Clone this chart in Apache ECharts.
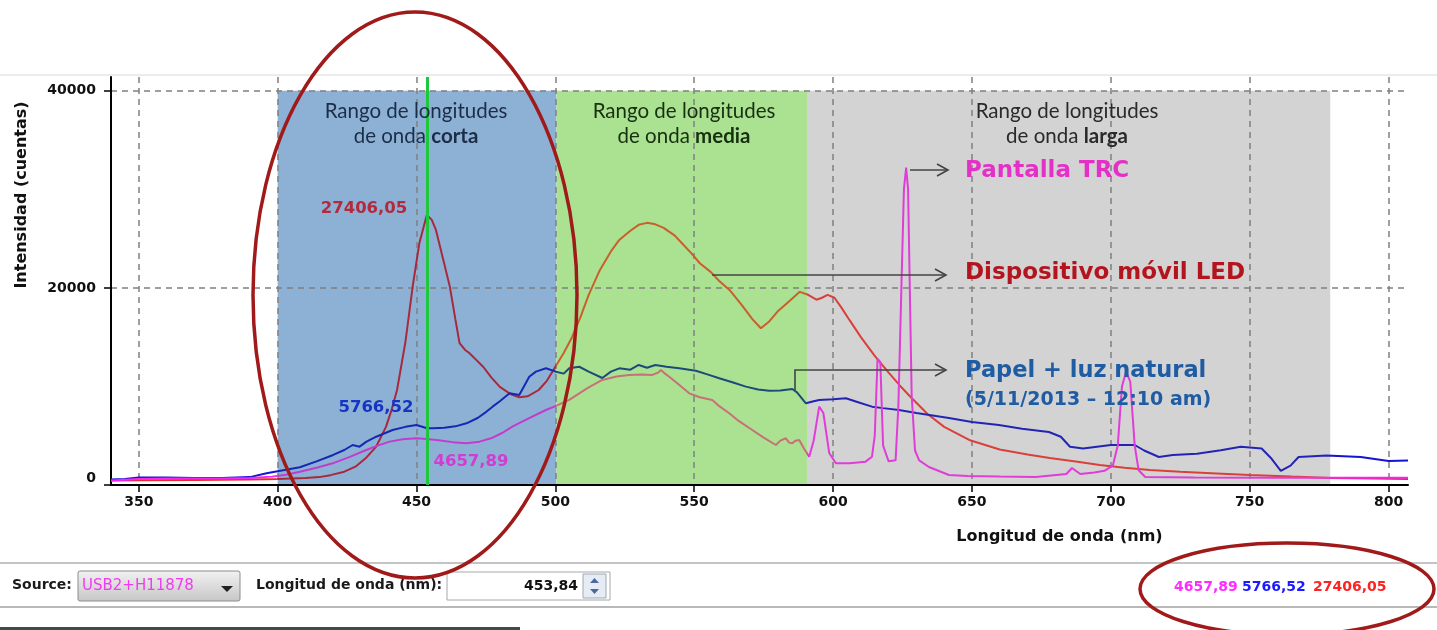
<!DOCTYPE html>
<html>
<head>
<meta charset="utf-8">
<script src="https://cdn.jsdelivr.net/npm/echarts@6/dist/echarts.min.js"></script>
<style>
html, body { margin: 0; padding: 0; background: #fff; }
#chart { width: 1437px; height: 630px; }
</style>
</head>
<body>
<div id="chart"></div>
<script>
// espectros: longitud de onda (nm) y cuentas
var ledX = [340,350,370,390,400,405,410,415,419,424,428,432,435.5,439,441,443,446,448.6,451,453.7,455.5,457,459.5,462,464,465.5,467.5,469,471.5,474,477,480,484,487,490,494,497,500,503,506,509,512,516,520,523,527,530,533,536,539,543,546,549,552,556,559,563,567,571,574,577,580,584,588,591,594,596,598,600.5,603,606,610,615,620,624,628,634,640,649,660,670,678,688,696,705,714,725,740,750,765,779,795,807];
var ledY = [450,480,520,560,600,650,700,800,1000,1350,1860,2800,3900,5900,7600,9640,14500,20100,24500,27406,26900,25880,23000,20130,16800,14400,13700,13400,12700,12000,10900,9950,9200,8900,9000,9640,10600,12000,13400,15000,17000,19300,21800,23700,24870,25800,26400,26600,26450,26090,25300,24400,23500,22500,21600,20700,19700,18300,16800,15900,16600,17600,18600,19600,19300,18800,19000,19300,19000,18000,16700,15000,13100,11400,10100,8900,7200,5900,4570,3600,3100,2740,2350,2030,1750,1520,1350,1150,1015,850,710,650,620];

var papelX = [340,345,350,360,370,380,390,396,402,408,414,420,424,427,429.5,432,435.5,441.4,446,450,453.8,456,460,464,468,472,475,477.4,480,483.5,487,490.6,493,496.6,500.2,503,505,508.6,512,516.9,520,523,527,530,533,536,540,544.6,550.6,555,559,564,568.6,573,577,581,585.3,587,590.2,593,595,600,604.6,609,614,618,623.7,630,641.7,650,659.7,668,677.7,682,685.3,690,700,708.6,712,717.3,722.3,731,739.6,746.8,754.3,757.9,761.2,764.7,767.6,777.7,790,800,807];
var papelY = [550,600,750,750,700,720,800,1190,1500,1800,2400,3050,3550,4060,3890,4400,4900,5580,5900,6090,5766,5750,5800,5950,6260,6800,7400,7950,8500,9300,9140,10990,11500,11840,11500,11300,11840,12000,11500,10860,11500,11840,11700,12180,11900,12180,12000,11840,11600,11200,10830,10400,9980,9700,9570,9600,9740,9400,8290,8500,8630,8700,8800,8400,7950,7800,7600,7300,6800,6400,6090,5700,5380,4900,3880,3700,4060,4060,3500,2840,3050,3180,3520,3880,3700,2660,1440,1960,2840,3000,2840,2440,2490];

var trcX = [340,350,360,370,380,390,398,403,408,414,419.8,426,431.9,436,440.3,445,449.9,453.8,458,463,467.9,472.7,477.4,481,484.5,490,496.6,500,505,508.6,512,516.9,522,526.6,531,534.9,537,538,539.5,541,544,548.2,552,556.5,559,562.6,566,570.9,575,579.4,581,583,584.2,585.3,586.5,587.8,589.5,591.4,593,595,596.5,598.6,601,606,611.7,614,615,616,617,618,620,622.5,623.5,625.5,626.3,627,628.3,629.5,631,634.5,641.7,648.4,660,673,684,686,689,694,697.7,700.7,702.5,704,705.5,707,708.6,710,712.4,730,760,790,807];
var trcY = [450,600,650,650,650,700,850,1050,1350,1750,2200,2850,3550,4000,4400,4650,4740,4658,4550,4350,4230,4400,4800,5300,5920,6700,7610,8000,8630,9300,9900,10660,11000,11170,11200,11170,11400,11670,11300,10990,10300,9300,8900,8630,8000,7280,6500,5580,4800,4060,4500,4740,4300,4230,4500,4570,3700,2870,4500,7950,7300,3250,2200,2200,2370,2870,5000,12800,12500,4000,2400,2500,8000,30000,32200,30000,9000,3500,2500,1830,1015,910,850,810,1120,1730,1120,1270,1440,1960,4000,10000,11500,10500,4000,1500,810,760,740,740,740];

var xTicks = [350,400,450,500,550,600,650,700,750,800];
var yTicks = [0,20000,40000];
// limites de los rangos corta / media / larga
var bandEdges = [400, 500.4, 590.6, 779];
var cursorNm = 453.84;
var cursorText = ['4657,89', '5766,52', '27406,05'];

function pares(xs, ys) {
	return xs.map(function(x, i) { return [x, ys[i]]; });
}

// color de cada curva fuera / dentro de cada rango
function tramos(idx, c) {
	return {
		type: 'piecewise', show: false, dimension: 0, seriesIndex: idx,
		pieces: [
			{ lt: bandEdges[0], color: c[0] },
			{ gte: bandEdges[0], lt: bandEdges[1], color: c[1] },
			{ gte: bandEdges[1], lt: bandEdges[2], color: c[2] },
			{ gte: bandEdges[2], lt: bandEdges[3], color: c[3] },
			{ gte: bandEdges[3], color: c[0] }
		]
	};
}

var ff = 'DejaVu Sans';
var grid = { left: 111, right: 29, top: 77, bottom: 145 };

function txt(x, y, s, size, color, extra) {
	var st = { text: s, fontSize: size, fontFamily: ff, fontWeight: 'bold', fill: color, align: 'left', verticalAlign: 'middle' };
	for (var k in extra) st[k] = extra[k];
	return { type: 'text', x: x, y: y, z: 100, style: st };
}
function flecha(pts) {
	var e = pts[pts.length - 1];
	return [
		{ type: 'polyline', z: 100, shape: { points: pts }, style: { stroke: '#444', lineWidth: 1.6, fill: null } },
		{ type: 'polyline', z: 100, shape: { points: [[e[0] - 11, e[1] - 6], e, [e[0] - 11, e[1] + 6]] }, style: { stroke: '#444', lineWidth: 1.6, fill: null } }
	];
}
function rango(cx, palabra, color) {
	return {
		type: 'text', x: cx, y: 124, z: 100,
		style: {
			text: 'Rango de longitudes\n{n|de onda }{b|' + palabra + '}',
			fontFamily: 'Lato', fontSize: 20.5, fill: color, align: 'center', verticalAlign: 'middle', lineHeight: 25,
			rich: {
				n: { fontFamily: 'Lato', fontSize: 20.5, fill: color, lineHeight: 25 },
				b: { fontFamily: 'Lato', fontSize: 20.5, fontWeight: 'bold', fill: color, lineHeight: 25 }
			}
		}
	};
}

var elementos = [
	{ type: 'rect', z: 100, shape: { x: 0, y: 74, width: 1437, height: 2 }, style: { fill: '#ececec' } },
	rango(416, 'corta', '#1c2d48'),
	rango(684, 'media', '#17300f'),
	rango(1067, 'larga', '#2a2a2a'),
	txt(965, 171, 'Pantalla TRC', 23, '#e530c8'),
	txt(965, 273, 'Dispositivo móvil LED', 23, '#b3141e'),
	txt(965, 371, 'Papel + luz natural', 22.5, '#1f5ca3'),
	txt(965, 400, '(5/11/2013 – 12:10 am)', 19, '#1f5ca3'),
	txt(364, 209, cursorText[2], 16.5, '#b22a3c', { align: 'center' }),
	txt(376, 408, cursorText[1], 16.5, '#1634c4', { align: 'center' }),
	txt(471, 462, cursorText[0], 16.5, '#d23cd2', { align: 'center' }),
	// barra inferior
	{ type: 'rect', z: 100, shape: { x: 0, y: 562, width: 1437, height: 2 }, style: { fill: '#c4c4c4' } },
	{ type: 'rect', z: 100, shape: { x: 0, y: 606, width: 1437, height: 2 }, style: { fill: '#b8b8b8' } },
	txt(12, 585, 'Source:', 14, '#1a1a1a'),
	{ type: 'rect', z: 100, shape: { x: 78, y: 571, width: 162, height: 30, r: 2 },
		style: { stroke: '#8c8c8c', lineWidth: 1, fill: new echarts.graphic.LinearGradient(0, 0, 0, 1, [{ offset: 0, color: '#f2f2f2' }, { offset: 1, color: '#c6c6c6' }]) } },
	txt(82, 586, 'USB2+H11878', 15, '#f03cf0', { fontWeight: 'normal' }),
	{ type: 'polygon', z: 100, shape: { points: [[221, 586], [233, 586], [227, 592]] }, style: { fill: '#222' } },
	txt(256, 585, 'Longitud de onda (nm):', 14, '#1a1a1a'),
	{ type: 'rect', z: 100, shape: { x: 447, y: 572, width: 163, height: 28 }, style: { fill: '#fff', stroke: '#a8a8a8', lineWidth: 1 } },
	txt(578, 586, String(cursorNm).replace('.', ','), 14, '#111', { align: 'right' }),
	{ type: 'rect', z: 100, shape: { x: 583, y: 574, width: 23, height: 24 }, style: { fill: '#e6ecf4', stroke: '#9ea8b8', lineWidth: 1 } },
	{ type: 'polygon', z: 100, shape: { points: [[590, 583], [599, 583], [594.5, 578]] }, style: { fill: '#4a6a9a' } },
	{ type: 'polygon', z: 100, shape: { points: [[590, 589], [599, 589], [594.5, 594]] }, style: { fill: '#4a6a9a' } },
	txt(1174, 587, cursorText[0], 14, '#ff2cff'),
	txt(1242, 587, cursorText[1], 14, '#1a1aff'),
	txt(1313, 587, cursorText[2], 14, '#ff2222'),
	{ type: 'rect', z: 100, shape: { x: 0, y: 627, width: 520, height: 3 }, style: { fill: '#3e4e46' } },
	// elipses rojas
	{ type: 'ellipse', z: 110, shape: { cx: 415, cy: 295, rx: 162, ry: 283 }, style: { fill: null, stroke: '#a01a1a', lineWidth: 3.5 } },
	{ type: 'ellipse', z: 110, shape: { cx: 1287, cy: 589, rx: 147, ry: 46 }, style: { fill: null, stroke: '#a01a1a', lineWidth: 3.5 } }
].concat(flecha([[910, 170], [948, 170]]))
 .concat(flecha([[712, 275], [946, 275]]))
 .concat(flecha([[795, 390], [795, 370], [946, 370]]));

var ejeTexto = { color: '#111', fontFamily: ff, fontWeight: 'bold', fontSize: 14 };
var rejilla = { show: true, lineStyle: { color: '#808080', width: 1.5, type: [6, 5] } };

var option = {
	animation: false,
	backgroundColor: '#fff',
	grid: grid,
	xAxis: {
		type: 'value', min: 340, max: 807, splitNumber: 10, z: 2,
		name: 'Longitud de onda (nm)', nameLocation: 'middle', nameGap: 44,
		nameTextStyle: { color: '#111', fontFamily: ff, fontWeight: 'bold', fontSize: 16, padding: [0, 0, 0, 600] },
		axisLine: { onZero: false, lineStyle: { color: '#000', width: 2 } },
		axisTick: { show: true, length: 7, customValues: xTicks, lineStyle: { color: '#000', width: 1.5 } },
		axisLabel: Object.assign({ margin: 10, customValues: xTicks }, ejeTexto),
		splitLine: rejilla
	},
	yAxis: {
		type: 'value', min: 0, max: 41400, interval: 20000, z: 2,
		name: 'Intensidad (cuentas)', nameLocation: 'middle', nameGap: 81,
		nameTextStyle: { color: '#111', fontFamily: ff, fontWeight: 'bold', fontSize: 16, padding: [0, 0, 0, 172] },
		axisLine: { show: true, lineStyle: { color: '#000', width: 2 } },
		axisTick: { show: true, length: 7, customValues: yTicks, lineStyle: { color: '#000', width: 1.5 } },
		axisLabel: Object.assign({
			margin: 15, customValues: yTicks,
			formatter: function(v) { return v === 0 ? '{z|0}' : String(v); },
			rich: { z: { color: '#111', fontFamily: ff, fontWeight: 'bold', fontSize: 14, padding: [0, 0, 14, 0] } }
		}, ejeTexto),
		splitLine: rejilla
	},
	visualMap: [
		tramos(1, ['#e8282c', '#a8283c', '#c8602c', '#d9403a']),
		tramos(2, ['#1414d2', '#1428b4', '#1d4a7a', '#2424b4']),
		tramos(3, ['#f028f0', '#c23ccc', '#c87078', '#e03cd8'])
	],
	series: [
		{
			type: 'line', data: [], silent: true,
			markArea: {
				silent: true,
				data: [
					[{ xAxis: bandEdges[0], yAxis: 0, itemStyle: { color: '#8cb1d5' } }, { xAxis: bandEdges[1], yAxis: 40000 }],
					[{ xAxis: bandEdges[1], yAxis: 0, itemStyle: { color: '#aae291' } }, { xAxis: bandEdges[2], yAxis: 40000 }],
					[{ xAxis: bandEdges[2], yAxis: 0, itemStyle: { color: '#d3d3d3' } }, { xAxis: bandEdges[3], yAxis: 40000 }]
				]
			},
			markLine: {
				silent: true, symbol: 'none', label: { show: false },
				lineStyle: { color: '#1ec83c', width: 3, type: 'solid' },
				data: [{ xAxis: cursorNm }]
			}
		},
		{ name: 'Dispositivo móvil LED', type: 'line', showSymbol: false, lineStyle: { width: 2 }, data: pares(ledX, ledY) },
		{ name: 'Papel + luz natural', type: 'line', showSymbol: false, lineStyle: { width: 2 }, data: pares(papelX, papelY) },
		{ name: 'Pantalla TRC', type: 'line', showSymbol: false, lineStyle: { width: 2 }, data: pares(trcX, trcY) }
	],
	graphic: { elements: elementos }
};

var myChart = echarts.init(document.getElementById('chart'));
myChart.setOption(option);
</script>
</body>
</html>
